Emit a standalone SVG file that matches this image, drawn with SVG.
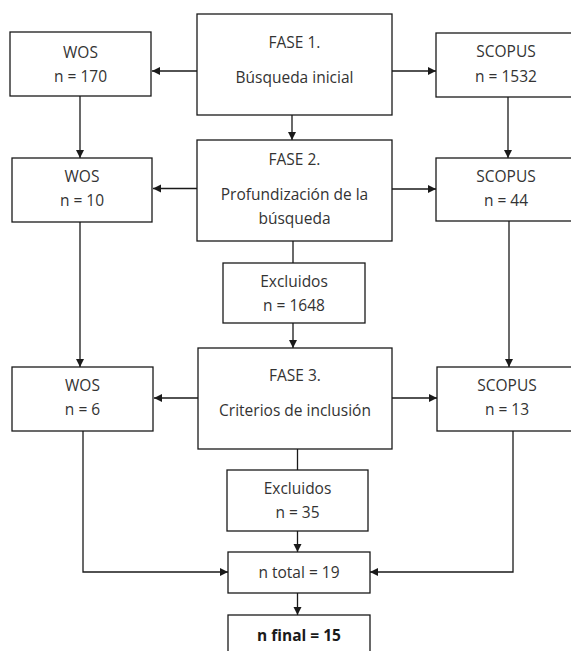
<svg xmlns="http://www.w3.org/2000/svg" width="571" height="651" viewBox="0 0 571 651">
<style>
.box{fill:#fff;stroke:#1a1a1a;stroke-width:1.3}
.t{font-family:"Open Sans","Liberation Sans",sans-serif;font-size:15.5px;fill:#333;text-anchor:middle}
.b{font-weight:bold;fill:#1a1a1a}
.c{fill:none;stroke:#1a1a1a;stroke-width:1.3}
</style>
<defs>
<marker id="ah" markerUnits="userSpaceOnUse" markerWidth="9" markerHeight="9" refX="8" refY="4" orient="auto">
<path d="M0,0 L8,4 L0,8 z" fill="#1a1a1a"/>
</marker>
</defs>
<rect width="571" height="651" fill="#fff"/>
<g id="connectors">
<line class="c" x1="197" y1="71" x2="152" y2="71" marker-end="url(#ah)"/>
<line class="c" x1="392" y1="71" x2="436" y2="71" marker-end="url(#ah)"/>
<line class="c" x1="292" y1="115" x2="292" y2="140" marker-end="url(#ah)"/>
<line class="c" x1="80" y1="96" x2="80" y2="158" marker-end="url(#ah)"/>
<line class="c" x1="508" y1="97" x2="508" y2="158" marker-end="url(#ah)"/>
<line class="c" x1="197" y1="188.5" x2="153" y2="188.5" marker-end="url(#ah)"/>
<line class="c" x1="392" y1="189" x2="436" y2="189" marker-end="url(#ah)"/>
<line class="c" x1="293" y1="241" x2="293" y2="263"/>
<line class="c" x1="293" y1="323" x2="293" y2="348" marker-end="url(#ah)"/>
<line class="c" x1="80" y1="222" x2="80" y2="367" marker-end="url(#ah)"/>
<line class="c" x1="509" y1="221" x2="509" y2="367" marker-end="url(#ah)"/>
<line class="c" x1="198" y1="398" x2="154" y2="398" marker-end="url(#ah)"/>
<line class="c" x1="392" y1="398" x2="437" y2="398" marker-end="url(#ah)"/>
<line class="c" x1="297.5" y1="449" x2="297.5" y2="470"/>
<line class="c" x1="297.5" y1="531" x2="297.5" y2="552" marker-end="url(#ah)"/>
<polyline class="c" points="83,431 83,572 228,572" marker-end="url(#ah)"/>
<polyline class="c" points="513,431 513,572 370,572" marker-end="url(#ah)"/>
<line class="c" x1="297.5" y1="593" x2="297.5" y2="615" marker-end="url(#ah)"/>
</g>
<g id="fase1"><rect class="box" x="197" y="14" width="195" height="101"/>
<text class="t" x="294.5" y="47.5">FASE 1.</text><text class="t" x="294.5" y="82.5">Búsqueda inicial</text></g>
<g id="wos1"><rect class="box" x="10" y="32" width="141" height="64"/>
<text class="t" x="80.5" y="57.5">WOS</text><text class="t" x="80.5" y="81.5">n = 170</text></g>
<g id="scopus1"><rect class="box" x="436" y="33" width="140" height="64"/>
<text class="t" x="506" y="56.5">SCOPUS</text><text class="t" x="506" y="81.5">n = 1532</text></g>
<g id="fase2"><rect class="box" x="197" y="140" width="195" height="101"/>
<text class="t" x="294.5" y="164.5">FASE 2.</text><text class="t" x="294.5" y="199.5">Profundización de la</text><text class="t" x="294.5" y="223.5">búsqueda</text></g>
<g id="wos2"><rect class="box" x="12" y="158" width="140" height="64"/>
<text class="t" x="82" y="181.5">WOS</text><text class="t" x="82" y="205.5">n = 10</text></g>
<g id="scopus2"><rect class="box" x="436" y="158" width="140" height="63"/>
<text class="t" x="506" y="181.5">SCOPUS</text><text class="t" x="506" y="205.5">n = 44</text></g>
<g id="excluidos1"><rect class="box" x="223" y="263" width="142" height="60"/>
<text class="t" x="294" y="287">Excluidos</text><text class="t" x="294" y="310.5">n = 1648</text></g>
<g id="fase3"><rect class="box" x="198" y="348" width="194" height="101"/>
<text class="t" x="295" y="380.5">FASE 3.</text><text class="t" x="295" y="415.5">Criterios de inclusión</text></g>
<g id="wos3"><rect class="box" x="12" y="367" width="141" height="64"/>
<text class="t" x="82.5" y="391">WOS</text><text class="t" x="82.5" y="414.5">n = 6</text></g>
<g id="scopus3"><rect class="box" x="437" y="367" width="140" height="64"/>
<text class="t" x="507" y="391">SCOPUS</text><text class="t" x="507" y="414.5">n = 13</text></g>
<g id="excluidos2"><rect class="box" x="227" y="470" width="141" height="61"/>
<text class="t" x="297.5" y="493.5">Excluidos</text><text class="t" x="297.5" y="517.5">n = 35</text></g>
<g id="ntotal"><rect class="box" x="228" y="552" width="142" height="41"/>
<text class="t" x="299" y="577.5">n total = 19</text></g>
<g id="nfinal"><rect class="box" x="228" y="615" width="142" height="50"/>
<text class="t b" x="299" y="640.5">n final = 15</text></g>
</svg>
